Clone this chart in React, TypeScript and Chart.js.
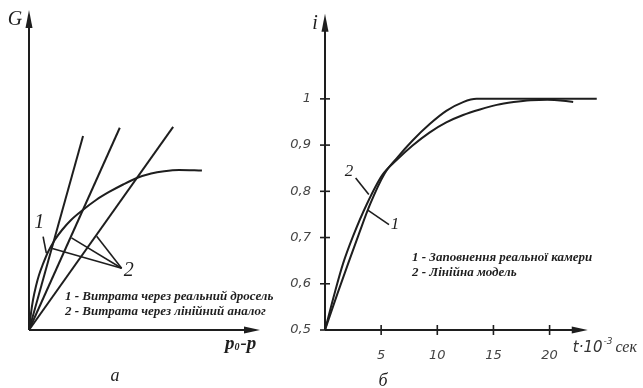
import React, { useEffect, useRef } from "react";
import { Chart, registerables } from "chart.js";

Chart.register(...registerables);

// ---------- Panel а: flow characteristics (schematic units 0..100) ----------
const throttleX = [0, 0.87, 1.73, 3.03, 4.33, 6.07, 8.24, 11.14, 14.3, 18.2, 23.28, 29.04, 34.68, 40.75, 46.68, 52.88, 58.52, 65.02, 74.86];
const throttleY = [0, 5.31, 9.38, 13.75, 17.19, 20.63, 24.38, 28.13, 31.25, 34.38, 37.5, 40.63, 43.13, 45.47, 47.5, 48.91, 49.63, 50.0, 49.84];
const analogEndX = [23.4, 39.3, 62.4];
const analogEndY = [60.6, 63.2, 63.5];
const leftLeader1X = [6.1, 7.5];
const leftLeader1Y = [29.2, 24.0];
const leftLeader2Hub = [40.1, 19.3];
const leftLeader2X = [10.1, 18.4, 29.3];
const leftLeader2Y = [25.5, 28.8, 29.3];
const leftLegend = ["1 - Витрата через реальний дросель", "2 - Витрата через лінійний аналог"];

// ---------- Panel б: chamber filling, i vs t·10^-3 s ----------
const realT = [0, 1.1, 2.05, 2.95, 4.0, 5.3, 6.4, 7.8, 9.3, 10.8, 12.3, 13.5, 24.2];
const realI = [0.5, 0.578, 0.643, 0.703, 0.771, 0.838, 0.872, 0.91, 0.945, 0.974, 0.993, 1.0, 1.0];
const modelT = [0, 0.85, 1.6, 2.5, 3.7, 5.1, 6.4, 7.8, 9.3, 10.8, 12.3, 13.8, 15.3, 16.8, 18.3, 19.8, 21.2, 22.1];
const modelI = [0.5, 0.579, 0.643, 0.703, 0.771, 0.835, 0.868, 0.899, 0.927, 0.949, 0.965, 0.977, 0.987, 0.993, 0.997, 0.998, 0.996, 0.993];
const iTicks = [0.5, 0.6, 0.7, 0.8, 0.9, 1];
const tTicks = [5, 10, 15, 20];
const rightLeader1T = [3.78, 5.7];
const rightLeader1I = [0.76, 0.728];
const rightLeader2T = [2.73, 3.9];
const rightLeader2I = [0.829, 0.793];
const rightLegend = ["1 - Заповнення реальної камери", "2 - Лінійна модель"];

const INK = "#1e1e1e";
const SERIF = '"Liberation Serif", "DejaVu Serif", serif';
const SANS = '"DejaVu Sans", sans-serif';

const pts = (xs: number[], ys: number[]) => xs.map((x, k) => ({ x, y: ys[k] }));

const lineDs = (data: any[], width = 2, curve = false) => ({
  data,
  borderColor: INK,
  borderWidth: width,
  pointRadius: 0,
  fill: false,
  cubicInterpolationMode: curve ? ("monotone" as const) : ("default" as const),
  tension: 0,
  clip: false as any,
});

function arrowUp(ctx: CanvasRenderingContext2D, x: number, tipY: number, len = 18, hw = 3.5) {
  ctx.beginPath();
  ctx.moveTo(x, tipY);
  ctx.lineTo(x - hw, tipY + len);
  ctx.lineTo(x + hw, tipY + len);
  ctx.closePath();
  ctx.fill();
}
function arrowRight(ctx: CanvasRenderingContext2D, tipX: number, y: number, len = 16, hw = 3.5) {
  ctx.beginPath();
  ctx.moveTo(tipX, y);
  ctx.lineTo(tipX - len, y - hw);
  ctx.lineTo(tipX - len, y + hw);
  ctx.closePath();
  ctx.fill();
}
function seg(ctx: CanvasRenderingContext2D, x1: number, y1: number, x2: number, y2: number) {
  ctx.beginPath();
  ctx.moveTo(x1, y1);
  ctx.lineTo(x2, y2);
  ctx.stroke();
}

const leftPlugin = {
  id: "leftDecor",
  beforeDatasetsDraw(chart: any) {
    const { ctx, chartArea: a } = chart;
    ctx.save();
    ctx.strokeStyle = INK;
    ctx.fillStyle = INK;
    ctx.lineWidth = 2;
    seg(ctx, a.left, a.bottom, a.left, a.top + 14);
    arrowUp(ctx, a.left, a.top);
    seg(ctx, a.left, a.bottom, a.right - 14, a.bottom);
    arrowRight(ctx, a.right, a.bottom);
    ctx.restore();
  },
  afterDraw(chart: any) {
    const { ctx, chartArea: a, scales } = chart;
    const sx = scales.x, sy = scales.y;
    ctx.save();
    ctx.fillStyle = INK;
    ctx.textBaseline = "middle";
    ctx.textAlign = "center";
    ctx.font = `italic 20px ${SERIF}`;
    ctx.fillText("G", a.left - 14, a.top + 10);
    ctx.fillText("1", sx.getPixelForValue(4.4), sy.getPixelForValue(33.6));
    ctx.fillText("2", sx.getPixelForValue(43.2), sy.getPixelForValue(18.6));
    // p0 - p
    ctx.textAlign = "left";
    ctx.textBaseline = "alphabetic";
    let px = a.right - 35;
    const base = a.bottom + 19;
    ctx.font = `italic bold 19px ${SERIF}`;
    ctx.fillText("p", px, base);
    px += ctx.measureText("p").width;
    ctx.font = `italic bold 10px ${SERIF}`;
    ctx.fillText("0", px, base + 1);
    px += ctx.measureText("0").width + 1;
    ctx.font = `italic bold 19px ${SERIF}`;
    ctx.fillText("-p", px, base);
    // legend
    ctx.textBaseline = "middle";
    ctx.font = `italic bold 13px ${SERIF}`;
    ctx.fillText(leftLegend[0], a.left + 36, 297);
    ctx.fillText(leftLegend[1], a.left + 36, 312);
    // caption
    ctx.textAlign = "center";
    ctx.font = `italic 18px ${SERIF}`;
    ctx.fillText("а", 115, 376);
    ctx.restore();
  },
};

const rightPlugin = {
  id: "rightDecor",
  beforeDatasetsDraw(chart: any) {
    const { ctx, chartArea: a, scales } = chart;
    const sx = scales.x, sy = scales.y;
    ctx.save();
    ctx.strokeStyle = INK;
    ctx.fillStyle = INK;
    ctx.lineWidth = 2;
    seg(ctx, a.left, a.bottom, a.left, a.top + 14);
    arrowUp(ctx, a.left, a.top);
    const xEnd = sx.getPixelForValue(23.4);
    seg(ctx, a.left, a.bottom, xEnd - 14, a.bottom);
    arrowRight(ctx, xEnd, a.bottom, 16);
    ctx.lineWidth = 1.6;
    iTicks.forEach((v) => {
      const y = sy.getPixelForValue(v);
      seg(ctx, a.left - 5, y, a.left + 5, y);
    });
    tTicks.forEach((v) => {
      const x = sx.getPixelForValue(v);
      seg(ctx, x, a.bottom - 5, x, a.bottom + 5);
    });
    ctx.restore();
  },
  afterDraw(chart: any) {
    const { ctx, chartArea: a, scales } = chart;
    const sx = scales.x, sy = scales.y;
    ctx.save();
    ctx.fillStyle = INK;
    ctx.textBaseline = "middle";
    ctx.textAlign = "center";
    ctx.font = `italic 20px ${SERIF}`;
    ctx.fillText("i", a.left - 10, a.top + 10);
    ctx.font = `italic 17px ${SERIF}`;
    ctx.fillText("2", sx.getPixelForValue(2.14), sy.getPixelForValue(0.842));
    ctx.fillText("1", sx.getPixelForValue(6.23), sy.getPixelForValue(0.729));
    // axis title
    ctx.textAlign = "left";
    ctx.textBaseline = "alphabetic";
    let px = sx.getPixelForValue(23.4) - 15;
    const base = a.bottom + 22;
    ctx.fillStyle = "#333";
    ctx.font = `italic 15px ${SANS}`;
    ctx.fillText("t·10", px, base);
    px += ctx.measureText("t·10").width + 1;
    ctx.font = `italic 9px ${SANS}`;
    ctx.fillText("-3", px, base - 8);
    px += ctx.measureText("-3").width + 3;
    ctx.font = `italic 16px ${SERIF}`;
    ctx.fillText("сек", px, base);
    // legend
    ctx.fillStyle = INK;
    ctx.textBaseline = "middle";
    ctx.font = `italic bold 13px ${SERIF}`;
    ctx.fillText(rightLegend[0], a.left + 87, 258);
    ctx.fillText(rightLegend[1], a.left + 87, 273);
    ctx.textAlign = "center";
    ctx.font = `italic 18px ${SERIF}`;
    ctx.fillText("б", 113, 381);
    ctx.restore();
  },
};

function LeftPanel() {
  const ref = useRef<HTMLCanvasElement>(null);
  useEffect(() => {
    if (!ref.current) return;
    const datasets: any[] = [lineDs(pts(throttleX, throttleY), 2, true)];
    analogEndX.forEach((ex, k) => datasets.push(lineDs(pts([0, ex], [0, analogEndY[k]]), 2)));
    datasets.push(lineDs(pts(leftLeader1X, leftLeader1Y), 1.6));
    leftLeader2X.forEach((lx, k) =>
      datasets.push(lineDs(pts([leftLeader2Hub[0], lx], [leftLeader2Hub[1], leftLeader2Y[k]]), 1.6))
    );
    const chart = new Chart(ref.current, {
      type: "line",
      data: { datasets },
      options: {
        responsive: false,
        animation: false,
        devicePixelRatio: 1,
        layout: { padding: { left: 29, top: 10, right: 40, bottom: 58 } },
        plugins: { legend: { display: false }, tooltip: { enabled: false } },
        scales: {
          x: { type: "linear", min: 0, max: 100, display: false },
          y: { type: "linear", min: 0, max: 100, display: false },
        },
      },
      plugins: [leftPlugin],
    });
    return () => chart.destroy();
  }, []);
  return <canvas ref={ref} width={300} height={388} style={{ position: "absolute", left: 0, top: 0 }} />;
}

function RightPanel() {
  const ref = useRef<HTMLCanvasElement>(null);
  useEffect(() => {
    if (!ref.current) return;
    const datasets: any[] = [
      lineDs(pts(realT, realI), 2, true),
      lineDs(pts(modelT, modelI), 2, true),
      lineDs(pts(rightLeader1T, rightLeader1I), 1.6),
      lineDs(pts(rightLeader2T, rightLeader2I), 1.6),
    ];
    const tickFont = { family: "DejaVu Sans", style: "italic" as const, size: 13 };
    const chart = new Chart(ref.current, {
      type: "line",
      data: { datasets },
      options: {
        responsive: false,
        animation: false,
        devicePixelRatio: 1,
        layout: { padding: { left: 0, top: 10, right: 44, bottom: 0 } },
        plugins: { legend: { display: false }, tooltip: { enabled: false } },
        scales: {
          x: {
            type: "linear",
            min: 0,
            max: 24.4,
            grid: { display: false },
            border: { display: false },
            afterBuildTicks: (s: any) => {
              s.ticks = tTicks.map((v) => ({ value: v }));
            },
            afterFit: (s: any) => {
              s.height = 58;
            },
            ticks: { padding: 10, autoSkip: false, maxRotation: 0, color: "#444", font: tickFont, callback: (v: any) => String(v) },
          },
          y: {
            type: "linear",
            min: 0.5,
            max: 1.184,
            grid: { display: false },
            border: { display: false },
            afterBuildTicks: (s: any) => {
              s.ticks = iTicks.map((v) => ({ value: v }));
            },
            afterFit: (s: any) => {
              s.width = 55;
            },
            ticks: {
              padding: 6,
              autoSkip: false,
              color: "#444",
              font: tickFont,
              callback: (v: any) => String(v).replace(".", ","),
            },
          },
        },
      },
      plugins: [rightPlugin],
    });
    return () => chart.destroy();
  }, []);
  return <canvas ref={ref} width={373} height={388} style={{ position: "absolute", left: 270, top: 0 }} />;
}

export default function App() {
  return (
    <div style={{ position: "absolute", left: 0, top: 0, width: 643, height: 388, background: "#fff", overflow: "hidden" }}>
      <LeftPanel />
      <RightPanel />
    </div>
  );
}
